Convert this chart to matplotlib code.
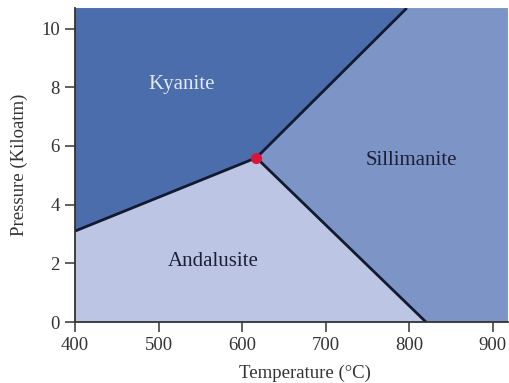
import matplotlib
matplotlib.use("Agg")
import matplotlib.pyplot as plt
from matplotlib.patches import Polygon

# Phase diagram of Al2SiO5 polymorphs
x_min, x_max = 400, 918
y_min, y_max = 0, 10.7

triple_point = (617, 5.6)
# Boundary end points (temperature °C, pressure kbar)
ky_and_end = (400, 3.1)     # kyanite / andalusite boundary at left edge
ky_sil_end = (797, 10.7)    # kyanite / sillimanite boundary at top edge
and_sil_end = (820, 0.0)    # andalusite / sillimanite boundary at bottom edge

phases = ["Kyanite", "Sillimanite", "Andalusite"]
label_pos_x = [527, 802, 565]
label_pos_y = [8.1, 5.5, 2.05]
phase_colors = ["#4b6dab", "#7d95c6", "#bcc5e3"]
label_colors = ["#e4e9f6", "#1b2038", "#1b2038"]

x_ticks = [400, 500, 600, 700, 800, 900]
y_ticks = [0, 2, 4, 6, 8, 10]

plt.rcParams["font.family"] = ["Liberation Serif", "DejaVu Serif"]

fig = plt.figure(figsize=(5.10, 3.83), dpi=100)
ax = fig.add_axes([0.147, 0.159, 0.849, 0.82])

tp = triple_point
regions = {
    "Kyanite": [(x_min, y_max), ky_sil_end, tp, ky_and_end],
    "Sillimanite": [ky_sil_end, (x_max, y_max), (x_max, y_min), and_sil_end, tp],
    "Andalusite": [ky_and_end, tp, and_sil_end, (x_min, y_min)],
}
for name, color in zip(phases, phase_colors):
    ax.add_patch(Polygon(regions[name], closed=True, facecolor=color,
                         edgecolor="none", zorder=1))

for end in (ky_and_end, ky_sil_end, and_sil_end):
    ax.plot([tp[0], end[0]], [tp[1], end[1]], color="#111a2e", lw=2.0,
            solid_capstyle="butt", zorder=2)

ax.plot([tp[0]], [tp[1]], "o", color="#d8163c", ms=7, zorder=3)

for name, lx, ly, lc in zip(phases, label_pos_x, label_pos_y, label_colors):
    ax.text(lx, ly, name, ha="center", va="center", fontsize=15, color=lc,
            zorder=4)

ax.set_xlim(x_min, x_max)
ax.set_ylim(y_min, y_max)
ax.set_xticks(x_ticks)
ax.set_yticks(y_ticks)
ax.tick_params(direction="out", length=7, width=1.2, color="#444444",
               labelsize=13.5, labelcolor="#333333", pad=4)
for side in ("top", "right"):
    ax.spines[side].set_visible(False)
for side in ("left", "bottom"):
    ax.spines[side].set_color("#333333")
    ax.spines[side].set_linewidth(1.3)

ax.set_xlabel("Temperature (°C)", fontsize=13.5, color="#333333")
ax.xaxis.set_label_coords(0.53, -0.135)
ax.set_ylabel("Pressure (Kiloatm)", fontsize=13.5, color="#333333", labelpad=9)

fig.savefig("out.png", dpi=100)
